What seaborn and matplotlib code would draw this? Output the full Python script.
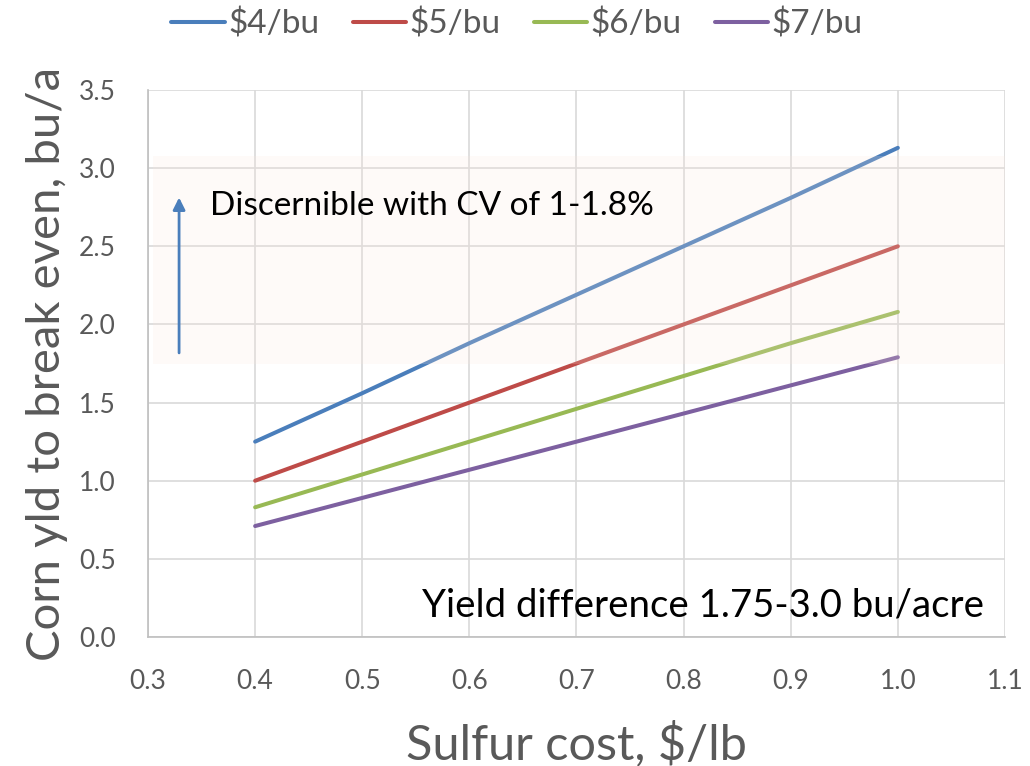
import matplotlib
matplotlib.use("Agg")
import matplotlib.pyplot as plt
import seaborn as sns
import pandas as pd

# Break-even corn yield (bu/a) for sulfur cost at several corn prices
sulfur_cost = [0.4, 0.5, 0.6, 0.7, 0.8, 0.9, 1.0]
yld_4 = [1.25, 1.56, 1.88, 2.19, 2.50, 2.81, 3.13]
yld_5 = [1.00, 1.25, 1.50, 1.75, 2.00, 2.25, 2.50]
yld_6 = [0.83, 1.04, 1.25, 1.46, 1.67, 1.88, 2.08]
yld_7 = [0.71, 0.89, 1.07, 1.25, 1.43, 1.61, 1.79]
price_labels = ["$4/bu", "$5/bu", "$6/bu", "$7/bu"]
colors = ["#4A7EBB", "#BE4B48", "#98B954", "#7D60A0"]

x_ticks = [0.3, 0.4, 0.5, 0.6, 0.7, 0.8, 0.9, 1.0, 1.1]
y_ticks = [0.0, 0.5, 1.0, 1.5, 2.0, 2.5, 3.0, 3.5]
band_low, band_high = 1.75, 3.08

rows = []
for label, series in zip(price_labels, [yld_4, yld_5, yld_6, yld_7]):
    for x, y in zip(sulfur_cost, series):
        rows.append({"cost": x, "yield": y, "price": label})
df = pd.DataFrame(rows)

sns.set_theme(style="white")
plt.rcParams["font.family"] = ["Lato", "DejaVu Sans"]

fig = plt.figure(figsize=(10.30, 7.66), dpi=100)
ax = fig.add_axes([0.1437, 0.1684, 0.8320, 0.7141])

sns.lineplot(data=df, x="cost", y="yield", hue="price", hue_order=price_labels,
             palette=colors, linewidth=2.9, ax=ax, zorder=3, legend=True)

ax.set_xlim(0.3, 1.1)
ax.set_ylim(0.0, 3.5)
ax.set_xticks(x_ticks)
ax.set_yticks(y_ticks)
ax.set_xticklabels([f"{v:.1f}" for v in x_ticks])
ax.set_yticklabels([f"{v:.1f}" for v in y_ticks])
ax.tick_params(axis="both", labelsize=19, colors="#595959", length=0, pad=23)

ax.grid(True, color="#D9D9D9", linewidth=1.2)
ax.set_axisbelow(True)
for side in ["top", "right"]:
    ax.spines[side].set_visible(False)
for side in ["left", "bottom"]:
    ax.spines[side].set_color("#BFBFBF")
    ax.spines[side].set_linewidth(1.2)

ax.set_xlabel("Sulfur cost, $/lb", fontsize=35, color="#595959", labelpad=19)
ax.set_ylabel("Corn yld to break even, bu/a", fontsize=34, color="#595959", labelpad=8)

# Translucent band marking the detectable yield difference
ax.axhspan(band_low, band_high, xmin=0.006, xmax=1.0, color="#FAE6DC",
           alpha=0.2, linewidth=0, zorder=4)

ax.annotate("", xy=(0.329, 2.83), xytext=(0.329, 1.80),
            arrowprops=dict(arrowstyle="-|>,head_length=0.6,head_width=0.3",
                            color="#4A7EBB", linewidth=2), zorder=5)
ax.text(0.358, 2.76, "Discernible with CV of 1-1.8%", fontsize=24,
        color="black", va="center", ha="left", zorder=5)
ax.text(1.08, 0.20, "Yield difference 1.75-3.0 bu/acre", fontsize=27.6,
        color="black", va="center", ha="right", zorder=5)

handles, labels = ax.get_legend_handles_labels()
ax.legend(handles, labels, loc="center", bbox_to_anchor=(0.502, 0.969),
          bbox_transform=fig.transFigure, ncol=4, frameon=False,
          fontsize=24, labelcolor="#595959", handlelength=1.6,
          handletextpad=0.1, columnspacing=1.0)

fig.savefig("out.png", dpi=100)
